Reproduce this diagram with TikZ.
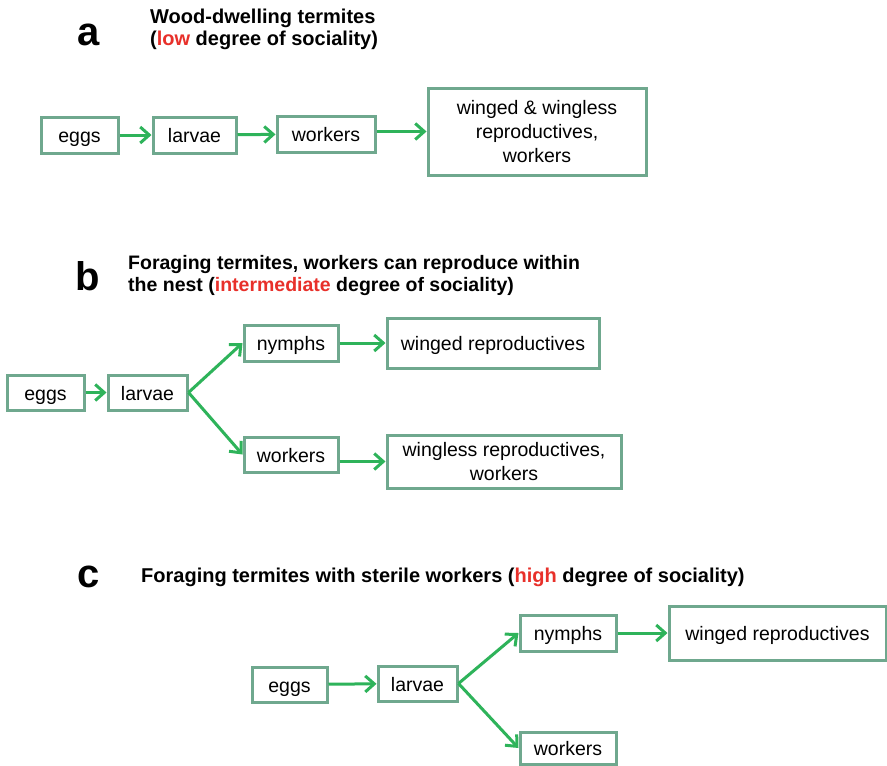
\documentclass[tikz,border=0pt]{standalone}
\usepackage{fontspec}
\setmainfont{Liberation Sans}
\usetikzlibrary{arrows.meta}
\definecolor{boxc}{HTML}{6FA88E}
\definecolor{arrc}{HTML}{2EB35A}
\definecolor{redc}{HTML}{E8302A}
\tikzset{
  box/.style={draw=boxc, line width=3pt, inner sep=0pt, align=center,
    font=\fontsize{19.5}{24}\selectfont},
  one/.style={text height=16pt, text depth=1pt},
  arr/.style={draw=arrc, line width=3pt,
    -{Straight Barb[length=9pt,width=16pt,line width=3pt]}},
  ttl/.style={anchor=base west, inner sep=0pt, font=\fontsize{20}{22}\selectfont\bfseries},
  letter/.style={anchor=base west, inner sep=0pt, font=\fontsize{40}{44}\selectfont\bfseries},
}
\begin{document}
\begin{tikzpicture}[x=1pt,y=-1pt]
\useasboundingbox (0,0) rectangle (887,766);
\fill[white] (0,0) rectangle (887,766);

% ---------- panel a
\node[letter] (la) at (77,45) {a};
\node[ttl] (ta1) at (150,23.5) {Wood-dwelling termites};
\node[ttl] (ta2) at (150,45.5) {(\textcolor{redc}{low} degree of sociality)};
\node[box, one, minimum width=77, minimum height=36] (aeggs) at (79.5,135) {eggs};
\node[box, one, minimum width=83, minimum height=36] (alarvae) at (194.5,135) {larvae};
\node[box, one, minimum width=98, minimum height=36] (aworkers) at (326,134) {workers};
\node[box, minimum width=218, minimum height=87] (arepro) at (537,131.5) {winged \& wingless\\reproductives,\\workers};
\draw[arr] (aeggs) -- (alarvae);
\draw[arr] (alarvae) -- (aworkers);
\draw[arr] (aworkers.east |- arepro.west) -- (arepro.west);

% ---------- panel b
\node[letter] (lb) at (75,290) {b};
\node[ttl, font=\fontsize{19.5}{22}\selectfont\bfseries] (tb1) at (128,269) {Foraging termites, workers can reproduce within};
\node[ttl, font=\fontsize{19.5}{22}\selectfont\bfseries] (tb2) at (128,291) {the nest (\textcolor{redc}{intermediate} degree of sociality)};
\node[box, one, minimum width=77, minimum height=35] (beggs) at (45.5,392.5) {eggs};
\node[box, one, minimum width=79, minimum height=35] (blarvae) at (147.5,392.5) {larvae};
\node[box, one, minimum width=94, minimum height=36] (bnymphs) at (291,343) {nymphs};
\node[box, one, minimum width=94, minimum height=35] (bworkers) at (291,454.5) {workers};
\node[box, one, minimum width=212, minimum height=50] (bwinged) at (493,343) {winged reproductives};
\node[box, minimum width=234, minimum height=53] (bwingless) at (504,461.5) {wingless reproductives,\\workers};
\draw[arr] (beggs) -- (blarvae);
\draw[arr] (blarvae.east) -- (bnymphs.west);
\draw[arr] (blarvae.east) -- (bworkers.west);
\draw[arr] (bnymphs) -- (bwinged);
\draw[arr] (bworkers.east |- bwingless.west) -- (bwingless.west);

% ---------- panel c
\node[letter] (lc) at (77,587) {c};
\node[ttl] (tc1) at (141,582) {Foraging termites with sterile workers (\textcolor{redc}{high} degree of sociality)};
\node[box, one, minimum width=75, minimum height=35] (ceggs) at (289.5,684.5) {eggs};
\node[box, one, minimum width=79, minimum height=35] (clarvae) at (417.5,683.5) {larvae};
\node[box, one, minimum width=96, minimum height=36] (cnymphs) at (568,633) {nymphs};
\node[box, one, minimum width=96, minimum height=32] (cworkers) at (568,748) {workers};
\node[box, one, minimum width=217, minimum height=54] (cwinged) at (777.5,633) {winged reproductives};
\draw[arr] (ceggs) -- (clarvae);
\draw[arr] (clarvae.east) -- (cnymphs.west);
\draw[arr] (clarvae.east) -- (cworkers.west);
\draw[arr] (cnymphs) -- (cwinged);
\end{tikzpicture}
\end{document}
